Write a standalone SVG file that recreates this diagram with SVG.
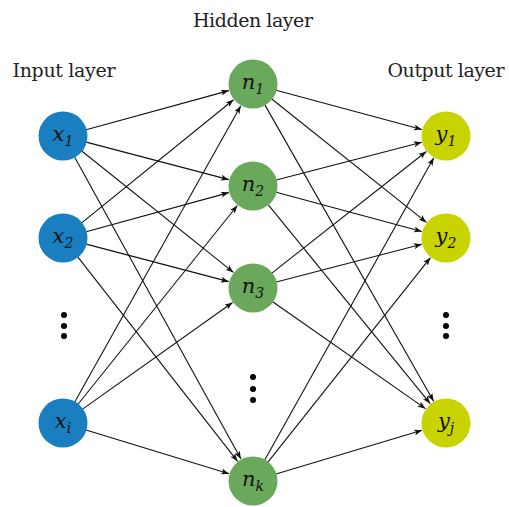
<svg xmlns="http://www.w3.org/2000/svg" width="509" height="507" viewBox="0 0 509 507">
<style>
.title{font-family:"DejaVu Serif",serif;font-size:19px;fill:#222;text-anchor:middle}
.lbl{font-family:"DejaVu Serif",serif;font-style:italic;font-size:21px;fill:#111;text-anchor:middle}
.sub{font-size:14px}
.in{fill:#1a7fc0}
.hid{fill:#6aa95b}
.out{fill:#c9d300}
.edge line{stroke:#111;stroke-width:1.1;marker-end:url(#arr)}
.dot{fill:#000}
</style>
<defs>
<marker id="arr" markerUnits="userSpaceOnUse" markerWidth="10" markerHeight="8" refX="8" refY="3" orient="auto">
<path d="M0,0 L8,3 L0,6 L2,3 z" fill="#111"/>
</marker>
</defs>
<rect width="509" height="507" fill="#fff"/>
<text class="title" x="253" y="27" textLength="120">Hidden layer</text>
<text class="title" x="64" y="77" textLength="103">Input layer</text>
<text class="title" x="446" y="77" textLength="117">Output layer</text>
<g id="connectors" class="edge">
<line x1="86.15" y1="129.66" x2="228.89" y2="90.60"/>
<line x1="86.21" y1="142.11" x2="228.82" y2="179.64"/>
<line x1="81.74" y1="150.99" x2="233.48" y2="272.38"/>
<line x1="74.58" y1="157.02" x2="240.94" y2="459.10"/>
<line x1="81.65" y1="222.89" x2="233.58" y2="99.74"/>
<line x1="86.15" y1="231.66" x2="228.89" y2="192.60"/>
<line x1="86.21" y1="244.11" x2="228.82" y2="281.64"/>
<line x1="77.78" y1="256.91" x2="237.60" y2="461.30"/>
<line x1="74.73" y1="402.06" x2="240.78" y2="105.81"/>
<line x1="78.01" y1="404.28" x2="237.36" y2="205.51"/>
<line x1="82.56" y1="409.10" x2="232.62" y2="302.48"/>
<line x1="85.95" y1="430.01" x2="229.09" y2="473.70"/>
<line x1="276.17" y1="90.24" x2="421.86" y2="129.50"/>
<line x1="271.76" y1="98.97" x2="426.46" y2="222.41"/>
<line x1="264.88" y1="104.86" x2="433.63" y2="401.27"/>
<line x1="276.23" y1="179.98" x2="421.80" y2="142.27"/>
<line x1="276.17" y1="192.24" x2="421.86" y2="231.50"/>
<line x1="268.16" y1="204.61" x2="430.21" y2="403.61"/>
<line x1="271.85" y1="273.15" x2="426.36" y2="151.47"/>
<line x1="276.23" y1="281.98" x2="421.80" y2="244.27"/>
<line x1="272.67" y1="301.76" x2="425.51" y2="408.67"/>
<line x1="264.72" y1="460.05" x2="433.79" y2="157.82"/>
<line x1="267.93" y1="462.21" x2="430.45" y2="257.58"/>
<line x1="275.98" y1="474.09" x2="422.06" y2="430.20"/>
</g>
<g id="x1"><circle class="in" cx="63" cy="136" r="24.5"/><text class="lbl" x="63" y="141">x<tspan class="sub" dy="5">1</tspan></text></g>
<g id="x2"><circle class="in" cx="63" cy="238" r="24.5"/><text class="lbl" x="63" y="243">x<tspan class="sub" dy="5">2</tspan></text></g>
<g id="xi"><circle class="in" cx="63" cy="423" r="24.5"/><text class="lbl" x="63" y="428">x<tspan class="sub" dy="5">i</tspan></text></g>
<g id="n1"><circle class="hid" cx="253" cy="84" r="24.5"/><text class="lbl" x="253" y="89">n<tspan class="sub" dy="5">1</tspan></text></g>
<g id="n2"><circle class="hid" cx="253" cy="186" r="24.5"/><text class="lbl" x="253" y="191">n<tspan class="sub" dy="5">2</tspan></text></g>
<g id="n3"><circle class="hid" cx="253" cy="288" r="24.5"/><text class="lbl" x="253" y="293">n<tspan class="sub" dy="5">3</tspan></text></g>
<g id="nk"><circle class="hid" cx="253" cy="481" r="24.5"/><text class="lbl" x="253" y="486">n<tspan class="sub" dy="5">k</tspan></text></g>
<g id="y1"><circle class="out" cx="446" cy="136" r="24.5"/><text class="lbl" x="446" y="141">y<tspan class="sub" dy="5">1</tspan></text></g>
<g id="y2"><circle class="out" cx="446" cy="238" r="24.5"/><text class="lbl" x="446" y="243">y<tspan class="sub" dy="5">2</tspan></text></g>
<g id="yj"><circle class="out" cx="446" cy="423" r="24.5"/><text class="lbl" x="446" y="428">y<tspan class="sub" dy="5">j</tspan></text></g>
<g id="dots-in"><circle class="dot" cx="64" cy="315" r="3"/><circle class="dot" cx="64" cy="326" r="3"/><circle class="dot" cx="64" cy="336" r="3"/></g>
<g id="dots-hid"><circle class="dot" cx="253" cy="377" r="3"/><circle class="dot" cx="253" cy="389" r="3"/><circle class="dot" cx="253" cy="400" r="3"/></g>
<g id="dots-out"><circle class="dot" cx="446" cy="315" r="3"/><circle class="dot" cx="446" cy="326" r="3"/><circle class="dot" cx="446" cy="336" r="3"/></g>
</svg>
